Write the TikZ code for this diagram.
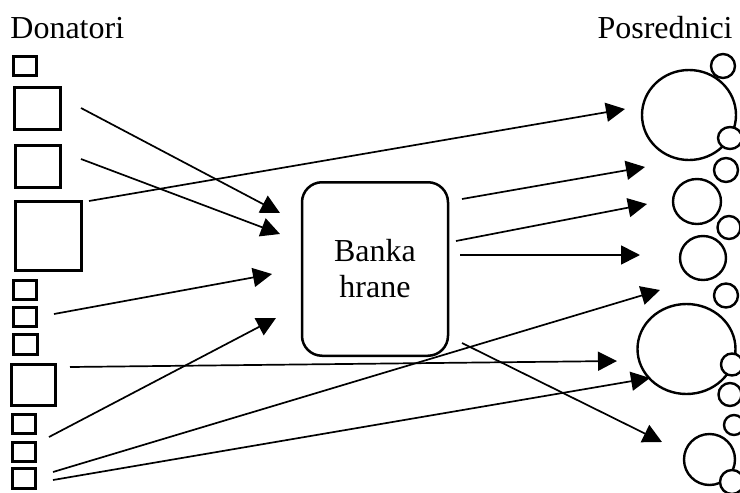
\documentclass[tikz,border=0pt]{standalone}
\usepackage{fontspec}
\setmainfont{Liberation Serif}
\usetikzlibrary{arrows.meta}
\begin{document}
\begin{tikzpicture}[x=0.5pt, y=-0.5pt,
        donor/.style={line width=1.5pt},
        agent/.style={line width=1.2pt, fill=white},
        flow/.style={line width=0.85pt, -{Triangle[length=9.5pt, width=9.5pt]}},
        every node/.style={font=\fontsize{16}{18}\selectfont}]
    \useasboundingbox (0,0) rectangle (740,493);
    \clip (0,0) rectangle (740,493);
    \node[anchor=base west, inner sep=0] (don) at (10,38) {Donatori};
    \node[anchor=base east, inner sep=0] (pos) at (733,38) {Posrednici};
    \node[draw, line width=1.25pt, rounded corners=10pt, minimum width=73pt,
        minimum height=86.75pt, align=center] (bank) at (375,269) {Banka\\hrane};
    % donors
    \foreach \xa/\ya/\xb/\yb in {13.5/56.5/36.5/75.5, 14.5/87.5/60.5/129.5,
        15.5/145.5/60.5/187.5, 15.5/201.5/81.5/270.5, 13.5/280.5/36.5/299.5,
        13.5/307.5/36.5/326.5, 13.5/334.5/37.5/354.5, 11.5/364.5/55.5/405.5,
        12.5/414.5/35.5/433.5, 12.5/442.5/35.5/461.5, 12.5/468.5/35.5/488.5}
        \draw[donor] (\xa,\ya) rectangle (\xb,\yb);
    % intermediaries, large ones first
    \foreach \cx/\cy/\rx/\ry in {689/115/47/45, 686.5/349/49/45, 697/201.5/24/22.5,
        703/258/23/22, 709.5/459.5/25.5/25.5, 723/66/12/12, 730/138/12/11,
        726/170/12/12, 729/227.5/11.5/11.5, 726/295.5/12/12, 732/364.5/11/11,
        730/394.5/11.5/11.5, 734/425/10/10, 732/482/12/12}
        \draw[agent] (\cx,\cy) ellipse [x radius=\rx, y radius=\ry];
    % flow ends
    \coordinate (s1) at (81,108);   \coordinate (t1) at (280,213);
    \coordinate (s2) at (81,159);   \coordinate (t2) at (280,234);
    \coordinate (s3) at (89,201);   \coordinate (t3) at (625,109);
    \coordinate (s4) at (54,314);   \coordinate (t4) at (272,274);
    \coordinate (s5) at (49,437);   \coordinate (t5) at (276,318);
    \coordinate (s6) at (70,367);   \coordinate (t6) at (617,361);
    \coordinate (s7) at (53,472);   \coordinate (t7) at (660,290);
    \coordinate (s8) at (53,480);   \coordinate (t8) at (650,378);
    \coordinate (s9) at (462,199);  \coordinate (t9) at (645,167);
    \coordinate (s10) at (456,241); \coordinate (t10) at (647,204);
    \coordinate (s11) at (460,255); \coordinate (t11) at (640,255);
    \coordinate (s12) at (462,343); \coordinate (t12) at (662,442);
    \foreach \i in {1,...,12} \draw[flow] (s\i) -- (t\i);
\end{tikzpicture}
\end{document}
